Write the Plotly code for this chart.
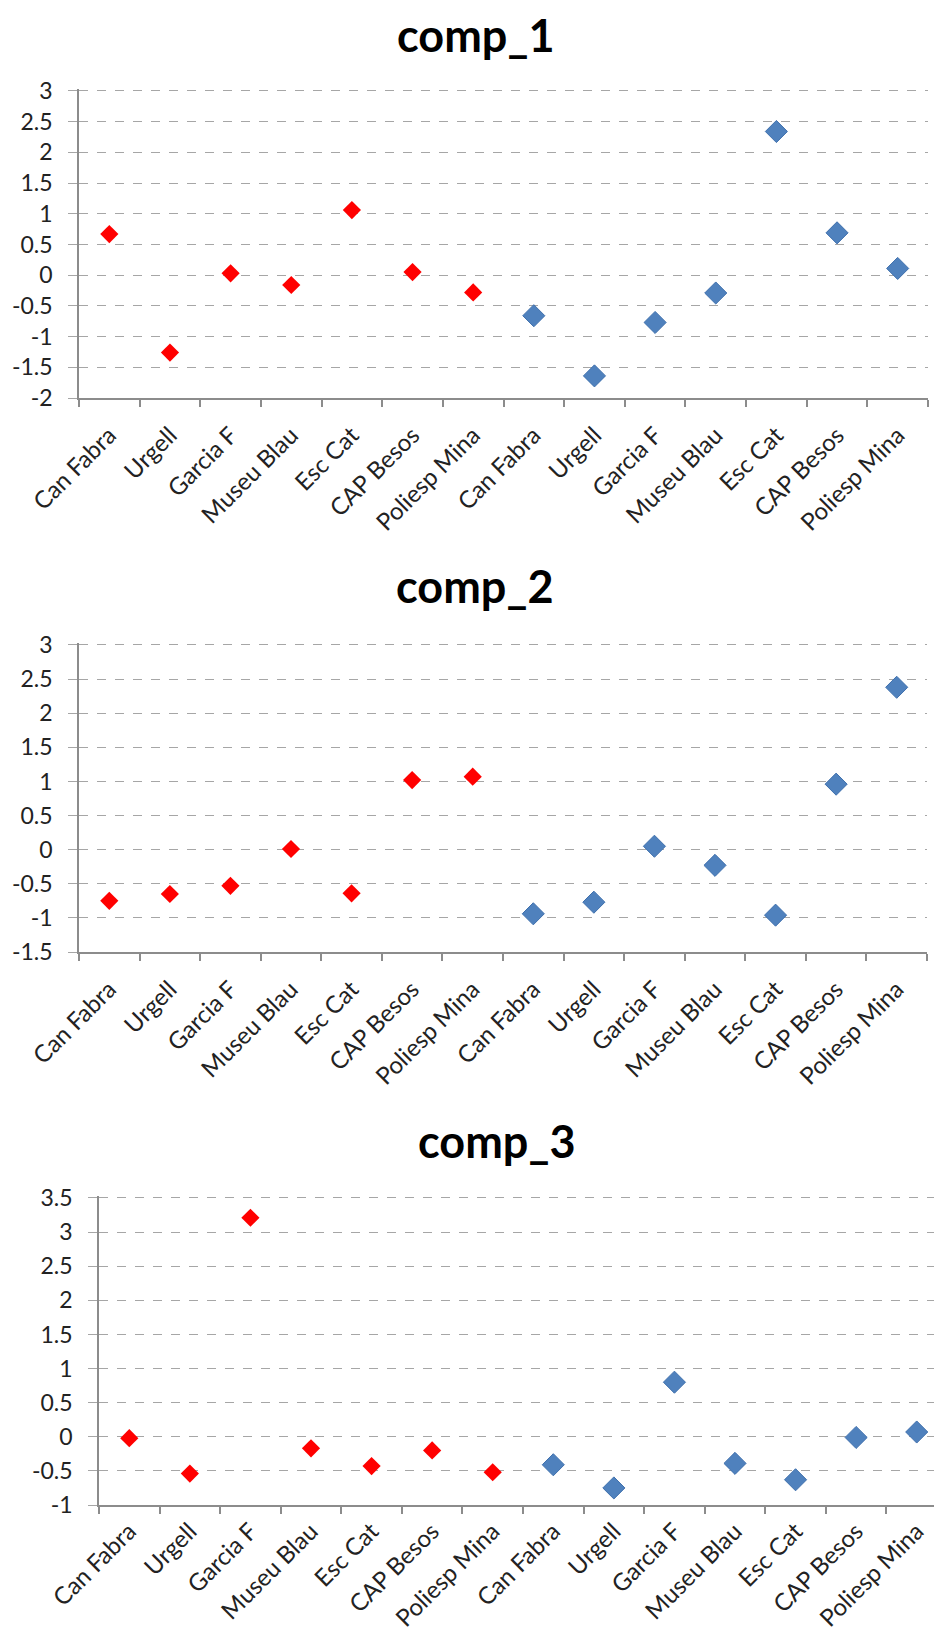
import plotly.graph_objects as go

sites = ["Can Fabra", "Urgell", "Garcia F", "Museu Blau", "Esc Cat", "CAP Besos", "Poliesp Mina"]
categories = sites + sites

titles = ["comp_1", "comp_2", "comp_3"]

comp1_red = [0.67, -1.26, 0.03, -0.16, 1.06, 0.05, -0.28]
comp1_blue = [-0.66, -1.64, -0.77, -0.29, 2.34, 0.69, 0.11]

comp2_red = [-0.75, -0.65, -0.53, 0.01, -0.64, 1.02, 1.07]
comp2_blue = [-0.94, -0.77, 0.05, -0.23, -0.96, 0.96, 2.38]

comp3_red = [-0.02, -0.54, 3.21, -0.17, -0.43, -0.20, -0.52]
comp3_blue = [-0.41, -0.75, 0.80, -0.39, -0.63, -0.01, 0.07]

y_ranges = [[-2, 3], [-1.5, 3], [-1, 3.5]]
y_step = 0.5

W, H = 942, 1636
OFF = 8  # page body margin of the html page
# pixel layout of each plot area on screen: (left, right, top, bottom)
boxes = [(79, 928, 89, 398), (79, 927, 643, 952), (99, 947, 1196, 1505)]
title_pos = [(475, 35), (474, 586), (496, 1141)]
xlab_standoff = [12, 12, 1]

reds = [comp1_red, comp2_red, comp3_red]
blues = [comp1_blue, comp2_blue, comp3_blue]

FONT = "Lato"
fig = go.Figure()
n = len(sites)
xs_red = list(range(n))
xs_blue = list(range(n, 2 * n))

for i in range(3):
    ax = "" if i == 0 else str(i + 1)
    fig.add_trace(go.Scatter(
        x=xs_red, y=reds[i], mode="markers",
        marker=dict(symbol="diamond", size=14, color="#FF0000", line=dict(width=0)),
        xaxis="x" + ax, yaxis="y" + ax, showlegend=False, cliponaxis=False))
    fig.add_trace(go.Scatter(
        x=xs_blue, y=blues[i], mode="markers",
        marker=dict(symbol="diamond", size=17, color="#4F81BD",
                    line=dict(width=1, color="#3F70AD")),
        xaxis="x" + ax, yaxis="y" + ax, showlegend=False, cliponaxis=False))
    l, r, t, b = [v - OFF for v in boxes[i]]
    lo, hi = y_ranges[i]
    nt = int(round((hi - lo) / y_step))
    yvals = [lo + k * y_step for k in range(nt + 1)]
    ytext = [f"{v:g}" for v in yvals]
    xa = dict(
        domain=[l / W, min(r / W, 1.0)],
        range=[-0.5, 2 * n - 0.5],
        tickmode="array", tickvals=list(range(2 * n)), ticktext=categories,
        tickangle=-45, ticks="", showgrid=False, zeroline=False,
        showline=True, linecolor="#8C8C8C", linewidth=1.5,
        tickfont=dict(family=FONT, size=24, color="#222222"),
        ticklabelstandoff=xlab_standoff[i], automargin=False,
        minor=dict(tickmode="linear", tick0=-0.5, dtick=1, ticks="outside",
                   ticklen=7, tickcolor="#8C8C8C", tickwidth=1.5, showgrid=False),
        anchor="y" + ax, fixedrange=True,
    )
    # small headroom so the top gridline is not dropped at the plot edge
    pad = (hi - lo) * 2.0 / (b - t)
    ya = dict(
        domain=[1 - b / H, 1 - t / H],
        range=[lo, hi + pad],
        tickmode="array", tickvals=yvals, ticktext=ytext,
        showgrid=True, gridcolor="#A6A6A6", griddash="dash", gridwidth=1.2,
        zeroline=False, showline=True, linecolor="#8C8C8C", linewidth=1.5,
        ticks="outside", ticklen=9, tickcolor="#A6A6A6", tickwidth=1.2,
        tickfont=dict(family=FONT, size=23, color="#222222"),
        ticklabelstandoff=11, automargin=False,
        anchor="x" + ax, fixedrange=True,
    )
    fig.update_layout(**{"xaxis" + ax: xa, "yaxis" + ax: ya})
    tx, ty = title_pos[i]
    fig.add_annotation(text="<b>" + titles[i] + "</b>", x=(tx - OFF) / W, y=1 - (ty - OFF) / H,
                       xref="paper", yref="paper", xanchor="center", yanchor="middle",
                       showarrow=False, font=dict(family=FONT, size=45, color="#000000"))

fig.update_layout(width=W, height=H, margin=dict(l=0, r=0, t=0, b=0, autoexpand=False),
                  plot_bgcolor="white", paper_bgcolor="white")
fig.write_html("out.html")
